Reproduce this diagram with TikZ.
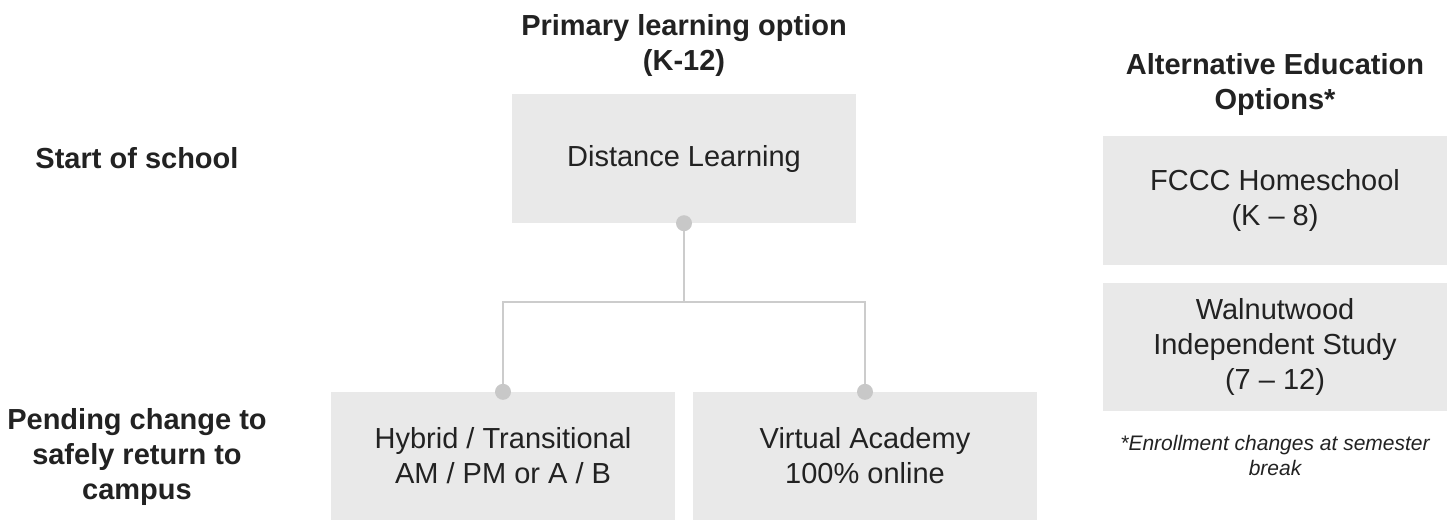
\documentclass[tikz,border=0pt]{standalone}
\usepackage{fontspec}
\setmainfont{Liberation Sans}
\definecolor{boxgray}{HTML}{E9E9E9}
\definecolor{linegray}{HTML}{CCCCCC}
\definecolor{dotgray}{HTML}{C8C8C8}
\definecolor{inkgray}{HTML}{222222}
\begin{document}
\begin{tikzpicture}[x=1pt,y=-1pt,
    option/.style={fill=boxgray, text=inkgray, minimum width=344pt, minimum height=128pt,
      inner sep=0pt, align=center, font=\fontsize{29}{35}\selectfont},
    heading/.style={text=inkgray, align=center, font=\fontsize{29}{35}\selectfont\bfseries},
    link/.style={draw=linegray, line width=2pt}]
    \useasboundingbox (0,0) rectangle (1447,520);

    % Headings
    \node[heading] (primary) at (684,45) {Primary learning option\\(K-12)};
    \node[heading] (alt) at (1275,84) {Alternative Education\\Options*};
    \node[heading] (start) at (137,158) {Start of school};
    \node[heading] (pending) at (137,457) {Pending change to\\safely return to\\campus};

    % Primary options
    \node[option, minimum height=129pt] (dist) at (684,158.5) {Distance Learning};
    \node[option] (hybrid) at (503,456) {Hybrid / Transitional\\AM / PM or A / B};
    \node[option] (virtual) at (865,456) {Virtual Academy\\100\% online};

    % Alternative options
    \node[option, minimum height=129pt] (fccc) at (1275,200.5) {FCCC Homeschool\\(K -- 8)};
    \node[option] (walnut) at (1275,347) {Walnutwood\\Independent Study\\(7 -- 12)};
    \node[text=inkgray, align=center, font=\fontsize{21}{25}\selectfont\itshape] (note)
      at (1275,455.5) {*Enrollment changes at semester\\break};

    % Connectors
    \coordinate (fork) at (684,302);
    \draw[link] (dist.south) -- (fork) -| (hybrid.north);
    \draw[link] (fork) -| (virtual.north);
    \foreach \n in {dist.south,hybrid.north,virtual.north}
      \fill[dotgray] (\n) circle (8pt);
\end{tikzpicture}
\end{document}
